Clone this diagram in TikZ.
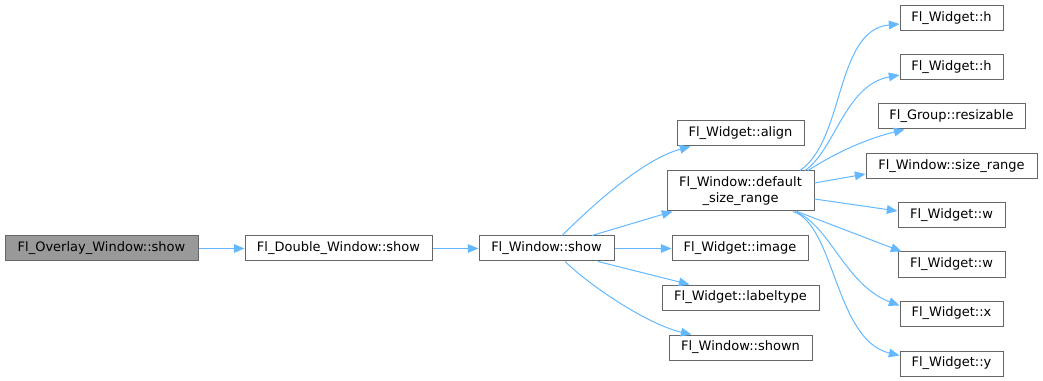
\documentclass[tikz,border=0pt]{standalone}
\usepackage{fontspec}
\setmainfont{DejaVu Sans}
\usetikzlibrary{arrows.meta,calc}
\definecolor{edgeblue}{HTML}{63B8FF}
\definecolor{boxgrey}{HTML}{666666}
\definecolor{rootfill}{HTML}{999999}
\begin{document}
\begin{tikzpicture}[x=0.75pt,y=-0.75pt,
  fn/.style={draw=boxgrey,line width=0.75pt,fill=white,rectangle,inner sep=0pt,
    minimum height=25*0.75pt,align=center,
    font=\fontsize{9.75}{12}\selectfont},
  rootfn/.style={fn,fill=rootfill},
  call/.style={draw=edgeblue,line width=0.75pt,
    -{Triangle[length=8pt,width=6.5pt]}}]
\useasboundingbox (0,0) rectangle (1043,381);

% caller chain
\node[rootfn,minimum width=193*0.75pt] (root) at (101.5,248.5) {Fl\_Overlay\_Window::show};
\node[fn,minimum width=187*0.75pt] (dbl) at (338.5,248.5) {Fl\_Double\_Window::show};
\node[fn,minimum width=135*0.75pt] (wshow) at (546.5,248.5) {Fl\_Window::show};

% second column
\node[fn,minimum width=127*0.75pt] (align) at (740.5,133.5) {Fl\_Widget::align};
\node[fn,minimum width=147*0.75pt,minimum height=40*0.75pt] (dsr) at (740.5,191) {Fl\_Window::default\\\_size\_range};
\node[fn,minimum width=136*0.75pt] (image) at (740,248.5) {Fl\_Widget::image};
\node[fn,minimum width=157*0.75pt] (labeltype) at (740.5,297.5) {Fl\_Widget::labeltype};
\node[fn,minimum width=143*0.75pt] (shown) at (740.5,347.5) {Fl\_Window::shown};

% third column
\node[fn,minimum width=103*0.75pt] (h1) at (951.5,18) {Fl\_Widget::h};
\node[fn,minimum width=103*0.75pt] (h2) at (951.5,67) {Fl\_Widget::h};
\node[fn,minimum width=147*0.75pt] (resizable) at (951.5,116.5) {Fl\_Group::resizable};
\node[fn,minimum width=171*0.75pt] (sizerange) at (951.5,166) {Fl\_Window::size\_range};
\node[fn,minimum width=107*0.75pt] (w1) at (951.5,215) {Fl\_Widget::w};
\node[fn,minimum width=107*0.75pt] (w2) at (951.5,264.5) {Fl\_Widget::w};
\node[fn,minimum width=103*0.75pt] (wx) at (951.5,313.5) {Fl\_Widget::x};
\node[fn,minimum width=103*0.75pt] (wy) at (951.5,363.5) {Fl\_Widget::y};

% calls along the chain
\draw[call] (root.east) -- (dbl.west);
\draw[call] (dbl.east) -- (wshow.west);

% calls made by Fl_Window::show
\draw[call] ($(wshow.north)+(15.5,0)$) .. controls (585,213) and (640,160) .. ($(align.south)+(-50,0)$);
\draw[call] ($(wshow.north)+(45.5,0)$) -- ($(dsr.south west)+(6,0)$);
\draw[call] (wshow.east) -- (image.west);
\draw[call] ($(wshow.south)+(51.5,0)$) -- ($(labeltype.north west)+(28,0)$);
\draw[call] ($(wshow.south)+(18.5,0)$) .. controls (595,290) and (650,325) .. ($(shown.north west)+(23,0)$);

% calls made by Fl_Window::default_size_range
\draw[call] ($(dsr.north)+(59.5,0)$) .. controls (845,140) and (835,30) .. ($(h1.west)+(0,6)$);
\draw[call] ($(dsr.north)+(64.5,0)$) .. controls (835,150) and (845,85) .. ($(h2.west)+(0,8)$);
\draw[call] ($(dsr.north)+(67.5,0)$) .. controls (840,150) and (870,138) .. ($(resizable.south west)+(27,0)$);
\draw[call] ($(dsr.east)+(0,-8)$) -- ($(sizerange.west)+(0,8)$);
\draw[call] ($(dsr.east)+(0,8)$) -- ($(w1.west)+(0,-4)$);
\draw[call] ($(dsr.south)+(56.5,0)$) -- ($(w2.north west)+(4,0)$);
\draw[call] ($(dsr.south)+(54.5,0)$) .. controls (830,225) and (845,285) .. ($(wx.west)+(0,-8)$);
\draw[call] ($(dsr.south)+(52.5,0)$) .. controls (835,225) and (835,340) .. ($(wy.west)+(0,-8)$);
\end{tikzpicture}
\end{document}
